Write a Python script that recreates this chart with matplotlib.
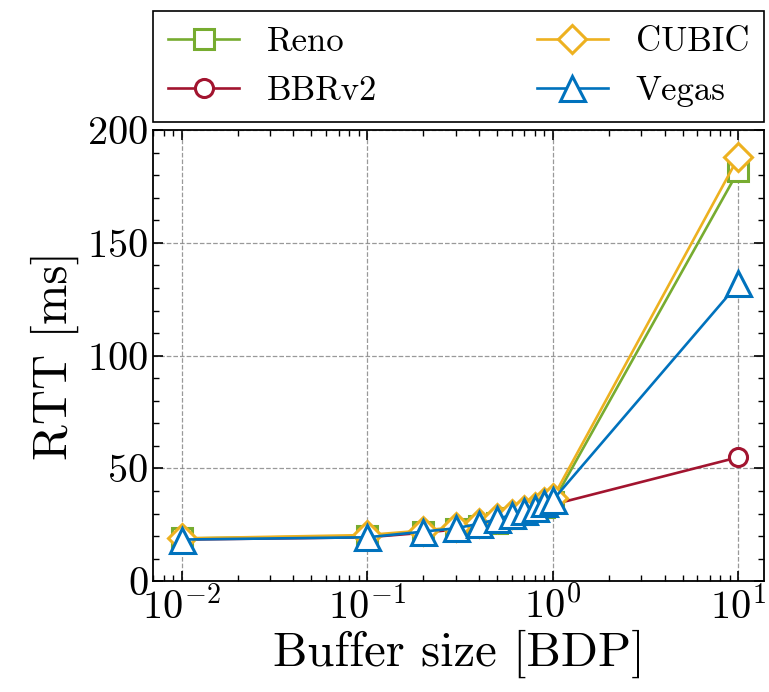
import numpy as np
import matplotlib
matplotlib.use("Agg")
import matplotlib.pyplot as plt

# buffer sizes in BDP and measured RTT (ms) per congestion control
buffer_bdp = [0.01, 0.1, 0.2, 0.3, 0.4, 0.5, 0.6, 0.7, 0.8, 0.9, 1.0, 10.0]
rtt_reno = [19.0, 20.0, 22.0, 23.0, 24.5, 26.0, 28.0, 30.0, 31.5, 33.0, 35.0, 182.0]
rtt_bbrv2 = [18.5, 19.5, 21.5, 23.0, 24.5, 26.0, 28.0, 29.5, 31.0, 32.5, 34.0, 55.0]
rtt_cubic = [19.0, 20.5, 22.5, 24.0, 26.0, 28.0, 30.0, 31.5, 33.0, 35.0, 37.0, 188.0]
rtt_vegas = [18.5, 19.5, 22.0, 23.5, 25.5, 27.5, 29.5, 31.0, 32.5, 34.5, 36.0, 132.0]

plt.rcParams.update({
    "font.family": "serif",
    "font.serif": ["cmr10"],
    "mathtext.fontset": "cm",
    "axes.formatter.use_mathtext": True,
    "axes.unicode_minus": False,
    "xtick.direction": "in",
    "ytick.direction": "in",
    "xtick.top": True,
    "ytick.right": True,
    "xtick.minor.visible": True,
    "ytick.minor.visible": True,
})

fig = plt.figure(figsize=(7.69, 6.92), dpi=100)
ax = fig.add_axes([0.199, 0.160, 0.795, 0.652])

series = [
    ("Reno", rtt_reno, "#77AC30", "s"),
    ("BBRv2", rtt_bbrv2, "#A2142F", "o"),
    ("CUBIC", rtt_cubic, "#EDB120", "D"),
    ("Vegas", rtt_vegas, "#0072BD", "^"),
]
sizes = {"s": 14, "o": 13, "D": 14, "^": 18}
for name, vals, col, mk in series:
    ax.plot(buffer_bdp, vals, color=col, marker=mk, markersize=sizes[mk],
            markerfacecolor="white", markeredgecolor=col, markeredgewidth=2.2,
            linewidth=1.9, label=name)

ax.set_xscale("log")
ax.set_xlim(0.007, 13.8)
ax.set_ylim(0, 200)
ax.set_yticks([0, 50, 100, 150, 200])
ax.yaxis.set_minor_locator(matplotlib.ticker.MultipleLocator(10))
ax.grid(True, which="major", linestyle="--", color="gray", linewidth=0.9, alpha=0.8)
ax.tick_params(which="major", length=7, width=1.2, labelsize=29)
ax.tick_params(which="minor", length=4, width=1.0)
for sp in ax.spines.values():
    sp.set_linewidth(1.3)

ax.set_xlabel("Buffer size [BDP]", fontsize=35, labelpad=2)
ax.set_ylabel("RTT [ms]", fontsize=35, labelpad=6)

# legend: Reno, BBRv2 in left column; CUBIC, Vegas in right column
leg = ax.legend(loc="lower left", bbox_to_anchor=(0.0, 1.018, 1.0, 0.2), mode="expand",
                ncol=2, fontsize=25, fancybox=False, edgecolor="black", framealpha=1,
                handlelength=2.05, borderaxespad=0, labelspacing=0.5, borderpad=0.44,
                handletextpad=0.8)
leg.get_frame().set_linewidth(1.2)

fig.savefig("out.png", dpi=100)
